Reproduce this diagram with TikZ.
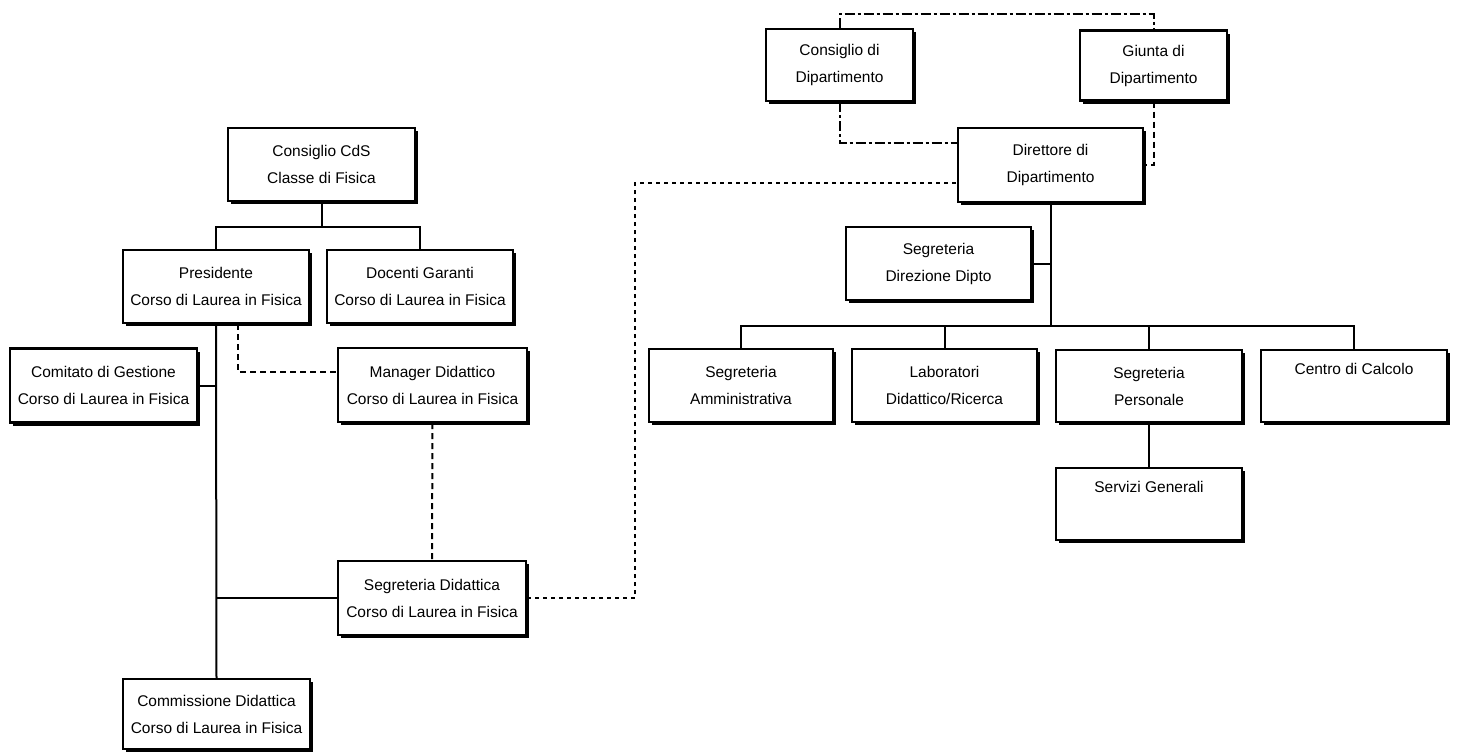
\documentclass[tikz,border=0pt]{standalone}
\usepackage{fontspec}
\setmainfont{Liberation Sans}
\usetikzlibrary{shadows}

\tikzset{
  unit/.style={
    draw=black, line width=2.2pt, fill=white, align=center, inner sep=0pt,
    font=\fontsize{15.5}{27}\selectfont,
    drop shadow={shadow xshift=3pt, shadow yshift=-3pt, fill=black, opacity=1}
  },
  link/.style={line width=2pt},
  dashdotlink/.style={line width=2pt, dash pattern=on 10pt off 3pt on 3pt off 3pt},
  dashlink/.style={line width=2pt, dash pattern=on 6pt off 4pt},
  dotlink/.style={line width=2pt, dash pattern=on 4pt off 4pt}
}

\begin{document}
\begin{tikzpicture}[x=1pt, y=-1pt]
\useasboundingbox (0,0) rectangle (1457,753);

% ---------------- Corso di Laurea ----------------
\node[unit, minimum width=187pt, minimum height=73pt] (cds)  at (321.5,164.5) {Consiglio CdS\\Classe di Fisica};
\node[unit, minimum width=186pt, minimum height=73pt] (pres) at (216,286.5)   {Presidente\\Corso di Laurea in Fisica};
\node[unit, minimum width=186pt, minimum height=73pt] (doc)  at (420,286.5)   {Docenti Garanti\\Corso di Laurea in Fisica};
\node[unit, minimum width=187pt, minimum height=74pt] (comi) at (103.5,385.5) {Comitato di Gestione\\Corso di Laurea in Fisica};
\node[unit, minimum width=189pt, minimum height=74pt] (man)  at (432.5,385)   {Manager Didattico\\Corso di Laurea in Fisica};
\node[unit, minimum width=188pt, minimum height=74pt] (segd) at (432,598)     {Segreteria Didattica\\Corso di Laurea in Fisica};
\node[unit, minimum width=187pt, minimum height=70pt] (comm) at (216.5,714)   {Commissione Didattica\\Corso di Laurea in Fisica};

% ---------------- Dipartimento ----------------
\node[unit, minimum width=147pt, minimum height=72pt] (cdip) at (839.5,65)    {Consiglio di\\Dipartimento};
\node[unit, minimum width=147pt, minimum height=70pt] (giu)  at (1153.5,65.5) {Giunta di\\Dipartimento};
\node[unit, minimum width=185pt, minimum height=74pt] (dir)  at (1050.5,165)  {Direttore di\\Dipartimento};
\node[unit, minimum width=185pt, minimum height=73pt] (sdir) at (938.5,263.5) {Segreteria\\Direzione Dipto};
\node[unit, minimum width=184pt, minimum height=73pt] (amm)  at (741,385.5)   {Segreteria\\Amministrativa};
\node[unit, minimum width=185pt, minimum height=73pt] (lab)  at (944.5,385.5) {Laboratori\\Didattico/Ricerca};
\node[unit, minimum width=186pt, minimum height=72pt] (pers) at (1149,386)    {Segreteria\\Personale};
\node[unit, minimum width=186pt, minimum height=72pt] (cal)  at (1354,386)    {Centro di Calcolo\\\strut};
\node[unit, minimum width=186pt, minimum height=72pt] (serv) at (1149,504)    {Servizi Generali\\\strut};

% junctions of the bus lines
\coordinate (lbus) at (321.5,227);
\coordinate (rbus) at (1050.5,326);

% ---------------- solid hierarchy ----------------
\draw[link] (cds.south) -- (lbus);
\draw[link] (pres.north) |- (lbus) -| (doc.north);
\draw[link] (pres.south) -- (comm.north);
\draw[link] (comi.east) -- (comi.east -| pres.south);
\draw[link] (segd.west) -- (segd.west -| pres.south);

\draw[link] (dir.south) -- (rbus);
\draw[link] (amm.north) |- (rbus) -| (cal.north);
\draw[link] (lab.north) -- (lab.north |- rbus);
\draw[link] (pers.north) -- (pers.north |- rbus);
\draw[link] (sdir.east) -- (sdir.east -| dir.south);
\draw[link] (pers.south) -- (serv.north);

% ---------------- functional links ----------------
\draw[dashlink] ([xshift=22pt]pres.south) |- ([yshift=13pt]man.west);
\draw[dashlink] (man.south) -- (segd.north);
\draw[dotlink] (segd.east) -- ++(108,0) |- ([yshift=-18pt]dir.west);

\draw[dashdotlink] (cdip.north) -- ++(0,-14) -| (giu.north);
\draw[dashdotlink] (cdip.south) |- ([yshift=22pt]dir.west);
\draw[dashlink] (giu.south) |- (dir.east);
\end{tikzpicture}
\end{document}
